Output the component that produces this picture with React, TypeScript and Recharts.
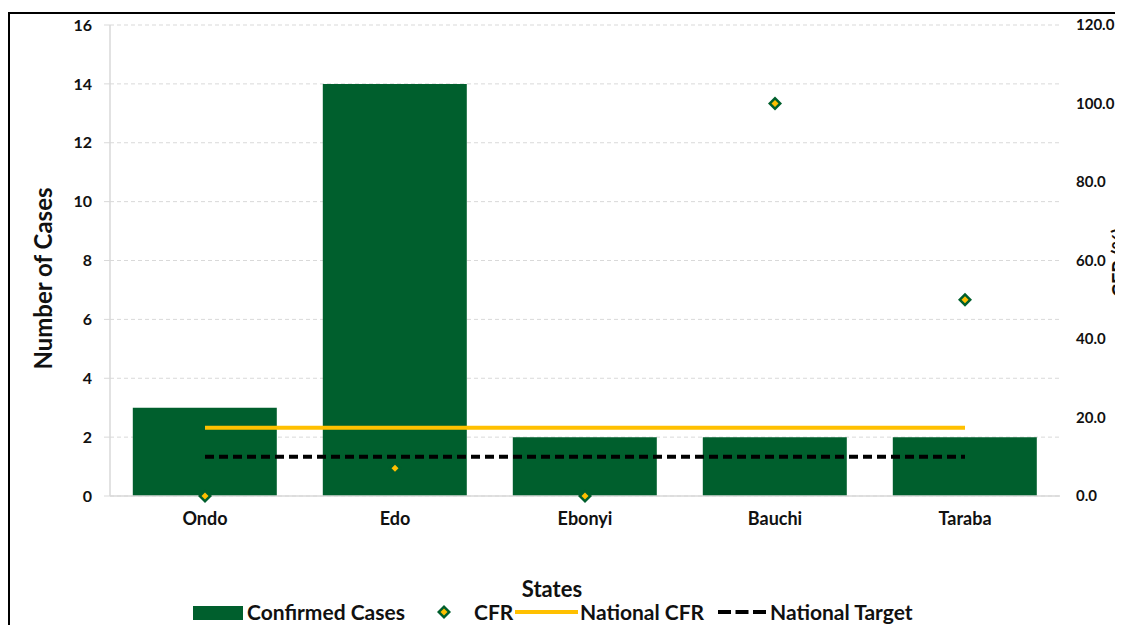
import {
  ComposedChart,
  Bar,
  Line,
  XAxis,
  YAxis,
  CartesianGrid,
} from "recharts";

const states = ["Ondo", "Edo", "Ebonyi", "Bauchi", "Taraba"];
const confirmedCases = [3, 14, 2, 2, 2];
const cfr = [0, 7.1, 0, 100, 50];
const nationalCfr = [17.4, 17.4, 17.4, 17.4, 17.4];
const nationalTarget = [10, 10, 10, 10, 10];

const caseTicks = [0, 2, 4, 6, 8, 10, 12, 14, 16];
const cfrTicks = [0, 20, 40, 60, 80, 100, 120];

const chartData = states.map((state, i) => ({
  state,
  cases: confirmedCases[i],
  cfr: cfr[i],
  nationalCfr: nationalCfr[i],
  target: nationalTarget[i],
}));

const green = "#005f2d";
const yellow = "#ffc000";
const font = "Lato, 'Open Sans', sans-serif";

const yTickStyle = { fontFamily: font, fontWeight: 700, fontSize: 16, fill: "#111" };
const xTickStyle = { fontFamily: font, fontWeight: 700, fontSize: 18, fill: "#111" };

function Diamond(props: any) {
  const { cx, cy } = props;
  if (cx == null || cy == null) return null;
  const r = 7;
  const ri = 3.5;
  return (
    <g>
      <path d={`M${cx},${cy - r}L${cx + r},${cy}L${cx},${cy + r}L${cx - r},${cy}Z`} fill={green} />
      <path d={`M${cx},${cy - ri}L${cx + ri},${cy}L${cx},${cy + ri}L${cx - ri},${cy}Z`} fill={yellow} />
    </g>
  );
}

function LeftLabel(props: any) {
  const { viewBox } = props;
  const x = viewBox.x + 34;
  const y = viewBox.y + viewBox.height / 2 + 18;
  return (
    <text
      x={x}
      y={y}
      transform={`rotate(-90, ${x}, ${y})`}
      textAnchor="middle"
      dominantBaseline="central"
      style={{ fontFamily: font, fontWeight: 700, fontSize: 24, fill: "#111" }}
    >
      Number of Cases
    </text>
  );
}

// only the top of this title shows at the right edge, as in the original
function RightLabel(props: any) {
  const { viewBox } = props;
  const x = viewBox.x + 67;
  const y = viewBox.y + viewBox.height / 2 + 2;
  return (
    <text
      x={x}
      y={y}
      transform={`rotate(-90, ${x}, ${y})`}
      textAnchor="middle"
      style={{ fontFamily: font, fontWeight: 700, fontSize: 20, fill: "#111" }}
    >
      CFR (%)
    </text>
  );
}

function BottomLabel(props: any) {
  const { viewBox } = props;
  const x = 544;
  const y = viewBox.y + 92;
  return (
    <text
      x={x}
      y={y}
      textAnchor="middle"
      dominantBaseline="central"
      style={{ fontFamily: font, fontWeight: 700, fontSize: 22, fill: "#111" }}
    >
      States
    </text>
  );
}

const legendText = { fontFamily: font, fontWeight: 700, fontSize: 21, color: "#111" };

export default function App() {
  return (
    <div style={{ position: "relative", width: 1115, height: 617 }}>
      <div
        style={{
          position: "absolute",
          left: 0,
          top: 4,
          width: 1115,
          height: 613,
          borderTop: "2px solid #000",
          borderLeft: "2px solid #000",
          boxSizing: "border-box",
        }}
      />
      <div style={{ position: "absolute", left: 0, top: 0 }}>
        <ComposedChart
          width={1115}
          height={617}
          data={chartData}
          margin={{ top: 17, right: 0, left: 0, bottom: 0 }}
          barCategoryGap="12%"
        >
          <CartesianGrid
            yAxisId="left"
            vertical={false}
            stroke="#d9d9d9"
            strokeDasharray="4 3"
          />
          <XAxis
            dataKey="state"
            height={129}
            tick={xTickStyle}
            tickLine={false}
            tickSize={0}
            tickMargin={16}
            axisLine={{ stroke: "#d9d9d9", strokeWidth: 1.5 }}
            label={<BottomLabel />}
          />
          <YAxis
            yAxisId="left"
            width={102}
            domain={[0, 16]}
            ticks={caseTicks}
            interval={0}
            tick={yTickStyle}
            tickSize={6}
            tickMargin={12}
            tickLine={{ stroke: "#d9d9d9" }}
            axisLine={{ stroke: "#d9d9d9", strokeWidth: 1.5 }}
            label={<LeftLabel />}
          />
          <YAxis
            yAxisId="right"
            orientation="right"
            width={63}
            domain={[0, 120]}
            ticks={cfrTicks}
            interval={0}
            tickFormatter={(v: number) => v.toFixed(1)}
            tick={{ ...yTickStyle, fontSize: 15, textAnchor: "start" }}
            tickSize={0}
            tickMargin={16}
            tickLine={false}
            axisLine={false}
            label={<RightLabel />}
          />
          <Bar
            yAxisId="left"
            dataKey="cases"
            name="Confirmed Cases"
            fill={green}
            isAnimationActive={false}
          />
          <Line
            yAxisId="right"
            dataKey="nationalCfr"
            name="National CFR"
            stroke={yellow}
            strokeWidth={4}
            dot={false}
            activeDot={false}
            isAnimationActive={false}
          />
          <Line
            yAxisId="right"
            dataKey="target"
            name="National Target"
            stroke="#000"
            strokeWidth={4}
            strokeDasharray="9 5"
            dot={false}
            activeDot={false}
            isAnimationActive={false}
          />
          <Line
            yAxisId="right"
            dataKey="cfr"
            name="CFR"
            stroke="none"
            strokeWidth={0}
            dot={<Diamond />}
            activeDot={false}
            isAnimationActive={false}
          />
        </ComposedChart>
      </div>
      <div
        style={{
          position: "absolute",
          top: 592,
          left: 0,
          width: 1115,
          height: 24,
          ...legendText,
        }}
      >
        <div style={{ position: "absolute", left: 185, top: 6, width: 50, height: 14, background: green }} />
        <div style={{ position: "absolute", left: 239, top: 0, lineHeight: "24px" }}>Confirmed Cases</div>
        <svg style={{ position: "absolute", left: 428, top: 4 }} width={16} height={16}>
          <Diamond cx={8} cy={8} />
        </svg>
        <div style={{ position: "absolute", left: 466, top: 0, lineHeight: "24px" }}>CFR</div>
        <div style={{ position: "absolute", left: 507, top: 10, width: 63, height: 4, background: yellow }} />
        <div style={{ position: "absolute", left: 572, top: 0, lineHeight: "24px" }}>National CFR</div>
        <svg style={{ position: "absolute", left: 710, top: 8 }} width={48} height={8}>
          <line x1={0} y1={4} x2={48} y2={4} stroke="#000" strokeWidth={4} strokeDasharray="13 4.5" />
        </svg>
        <div style={{ position: "absolute", left: 762, top: 0, lineHeight: "24px" }}>National Target</div>
      </div>
    </div>
  );
}
